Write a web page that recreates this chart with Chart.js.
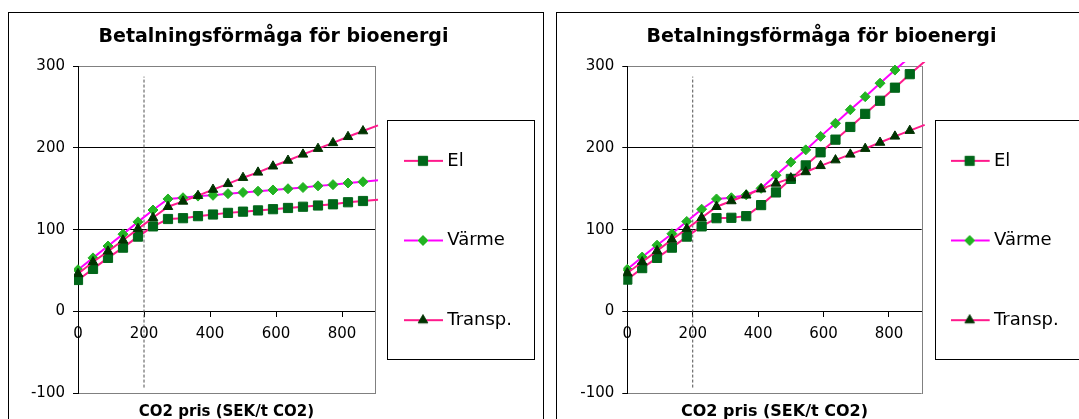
<!DOCTYPE html>
<html>
<head>
<meta charset="utf-8">
<script src="https://cdn.jsdelivr.net/npm/chart.js@4/dist/chart.umd.min.js"></script>
<style>
  html, body { margin: 0; padding: 0; background: #fff; width: 1079px; height: 419px; overflow: hidden; position: relative; }
  .frame { position: absolute; top: 12px; width: 536px; height: 480px; border: 1px solid #000; box-sizing: border-box; }
  canvas { position: absolute; top: 0; display: block; }
</style>
</head>
<body>
<div class="frame" style="left:8px"></div>
<div class="frame" style="left:556px"></div>
<canvas id="chartA" width="545" height="481" style="left:0px"></canvas>
<canvas id="chartB" width="545" height="481" style="left:548px"></canvas>
<script>
// CO2 price steps (SEK/t CO2)
const X_VALUES = [0, 45.5, 90.9, 136.4, 181.8, 227.3, 272.7, 318.2, 363.6, 409.1, 454.5,
                  500, 545.5, 590.9, 636.4, 681.8, 727.3, 772.7, 818.2, 863.6, 909.1];

const SERIES_NAMES = ['El', 'Värme', 'Transp.'];

// Left chart
const EL_A     = [38.5, 52, 65.5, 78, 91.5, 104, 113, 114, 116.5, 118.5, 120.5,
                  122, 123.5, 125, 126.5, 128, 129.5, 131, 133.5, 135, 136.5];
const VARME_A  = [51, 65.5, 80, 94.5, 109.5, 124, 137.5, 139, 141, 142, 144,
                  145.5, 147, 148.5, 150, 151.5, 153.5, 155, 157, 158.5, 160.5];
const TRANSP_A = [46, 60.5, 73.5, 87, 101, 114.5, 128, 134.5, 141.5, 149, 156,
                  163.5, 170, 177.5, 184.5, 192, 199, 206, 213.5, 220.5, 227.5];

// Right chart
const EL_B     = [39, 53, 65.5, 78, 91.5, 104, 114, 114.5, 116.5, 130, 145.5,
                  162, 178.5, 194.5, 210, 225.5, 241.5, 257.5, 273.5, 290, 305.5];
const VARME_B  = [51.5, 66.5, 81, 95, 110, 125, 137.5, 139, 142.5, 150.5, 166.5,
                  182.5, 197.5, 214, 230, 246.5, 262.5, 279, 295, 311, 327];
const TRANSP_B = [47, 60.5, 74, 88, 101, 114.5, 128, 135, 142, 149.5, 156.5,
                  163, 170.5, 178, 185, 192, 199, 206.5, 214, 221, 228];

const X_TICKS = [0, 200, 400, 600, 800];
const Y_TICKS = [-100, 0, 100, 200, 300];
const X_RANGE = [0, 900];
const Y_RANGE = [-100, 300];

// vertical marker at 200 SEK/t CO2
const REF_X = 200;
const REF_Y = [-93, 287];

const CHART_TITLE = 'Betalningsförmåga för bioenergi';
const X_TITLE = 'CO2 pris (SEK/t CO2)';

Chart.defaults.font.family = "'DejaVu Sans', Verdana, sans-serif";
Chart.defaults.color = '#000';

const STYLES = [
  { line: '#FF1A8C', marker: '#006619', shape: 'rect',     radius: 6.5 },
  { line: '#FF00FF', marker: '#22B322', shape: 'rectRot',  radius: 5 },
  { line: '#FF1A8C', marker: '#003300', shape: 'triangle', radius: 5.5 }
];

function makeSymbol(st) {
  const c = document.createElement('canvas');
  c.width = 67; c.height = 16;
  const g = c.getContext('2d');
  g.strokeStyle = st.line; g.lineWidth = 2;
  g.beginPath(); g.moveTo(0, 8); g.lineTo(39, 8); g.stroke();
  g.fillStyle = st.marker; g.strokeStyle = st.marker; g.lineWidth = 1;
  Chart.helpers.drawPoint(g, { pointStyle: st.shape, radius: st.radius, borderWidth: 1, rotation: 0 }, 19, 8);
  return c;
}
const SYMBOLS = STYLES.map(makeSymbol);

// fixed legend width, and plot-area / legend frames
const layoutPlugin = {
  id: 'excelFrame',
  beforeLayout(chart, args, opts) {
    const lg = chart.legend;
    if (lg && !lg.__fixedWidth) {
      const fit = lg.fit;
      lg.fit = function () { fit.call(this); this.width = opts.legendWidth; };
      lg.__fixedWidth = true;
    }
  },
  beforeDatasetsDraw(chart) {
    const { ctx, chartArea: a } = chart;
    ctx.save();
    ctx.strokeStyle = '#808080';
    ctx.lineWidth = 1;
    const x = Math.round(a.right) + 0.5;
    ctx.beginPath(); ctx.moveTo(x, Math.round(a.top)); ctx.lineTo(x, Math.round(a.bottom) + 1); ctx.stroke();
    ctx.restore();
  },
  afterDraw(chart, args, opts) {
    const { ctx, chartArea: a } = chart;
    ctx.save();
    ctx.strokeStyle = '#000';
    ctx.lineWidth = 1;
    const x = Math.round(a.right + opts.boxDx) + 0.5;
    ctx.strokeRect(x, opts.boxTop + 0.5, opts.boxWidth, opts.boxHeight);
    ctx.restore();
  }
};

function seriesDataset(i, values) {
  const st = STYLES[i];
  const hideOutside = c => {
    const p = c.raw;
    return (p && (p.x > X_RANGE[1] || p.y > Y_RANGE[1])) ? 0 : st.radius;
  };
  return {
    label: SERIES_NAMES[i],
    data: X_VALUES.map((x, k) => ({ x: x, y: values[k] })),
    borderColor: st.line,
    borderWidth: 2,
    backgroundColor: st.marker,
    pointBackgroundColor: st.marker,
    pointBorderColor: st.marker,
    pointBorderWidth: 1,
    pointStyle: st.shape,
    pointRadius: hideOutside,
    tension: 0,
    clip: 4,
    order: 3 - i
  };
}

function buildChart(id, series, geo) {
  const datasets = [
    {
      label: '',
      data: [{ x: REF_X, y: REF_Y[0] }, { x: REF_X, y: REF_Y[1] }],
      borderColor: '#505050',
      borderWidth: 1,
      borderDash: [3, 2],
      pointRadius: 0,
      order: 10
    }
  ].concat(series.map((v, i) => seriesDataset(i, v)));

  return new Chart(document.getElementById(id), {
    type: 'line',
    data: { datasets: datasets },
    plugins: [layoutPlugin],
    options: {
      responsive: false,
      animation: false,
      events: [],
      layout: { padding: { left: 4, right: 2, top: 0, bottom: 0 } },
      scales: {
        x: {
          type: 'linear',
          min: X_RANGE[0], max: X_RANGE[1],
          position: { y: 0 },
          afterBuildTicks: s => { s.ticks = X_TICKS.map(v => ({ value: v })); },
          grid: { display: true, drawOnChartArea: false, drawTicks: true, tickLength: 5, tickColor: '#000', color: '#000' },
          border: { display: true, color: '#000', width: 1 },
          ticks: { font: { size: 15 }, color: '#000', padding: 9, maxRotation: 0 }
        },
        y: {
          type: 'linear',
          min: Y_RANGE[0], max: Y_RANGE[1],
          afterBuildTicks: s => { s.ticks = Y_TICKS.map(v => ({ value: v })); },
          afterFit: s => { s.width = geo.yAxisWidth; },
          grid: {
            color: c => (c.tick && (c.tick.value === Y_RANGE[1] || c.tick.value === Y_RANGE[0])) ? '#808080' : '#000',
            tickLength: 5, tickColor: '#000', lineWidth: 1
          },
          border: { display: true, color: '#000', width: 1 },
          ticks: { font: { size: 15 }, color: '#000', padding: 8 }
        }
      },
      plugins: {
        excelFrame: { legendWidth: geo.legendWidth, boxDx: geo.boxDx, boxTop: 120, boxWidth: 147, boxHeight: 239 },
        title: {
          display: true, text: CHART_TITLE, color: '#000',
          font: { size: 19, weight: 'bold' },
          padding: { top: 25.6, bottom: 17.6 }
        },
        subtitle: {
          display: true, text: X_TITLE, position: 'bottom', fullSize: false, color: '#000',
          font: { size: geo.xTitleSize, weight: 'bold' },
          padding: { top: geo.xTitlePadTop, bottom: 87.7 - geo.xTitlePadTop - geo.xTitleSize * 1.2 }
        },
        legend: {
          display: true,
          position: 'right',
          align: 'center',
          labels: {
            usePointStyle: true,
            pointStyleWidth: 1.65,
            padding: 61.65,
            font: { size: 18 },
            color: '#000',
            generateLabels: () => SERIES_NAMES.map((name, i) => ({
              text: name, datasetIndex: i, pointStyle: SYMBOLS[i],
              fontColor: '#000', hidden: false, lineWidth: 0,
              strokeStyle: 'rgba(0,0,0,0)', fillStyle: 'rgba(0,0,0,0)'
            }))
          }
        },
        tooltip: { enabled: false }
      }
    }
  });
}

buildChart('chartA', [EL_A, VARME_A, TRANSP_A],
  { yAxisWidth: 74, legendWidth: 168, boxDx: 12.3, xTitleSize: 15, xTitlePadTop: 9.7 });
buildChart('chartB', [EL_B, VARME_B, TRANSP_B],
  { yAxisWidth: 75.3, legendWidth: 169.3, boxDx: 13, xTitleSize: 16, xTitlePadTop: 9.1 });
</script>
</body>
</html>
